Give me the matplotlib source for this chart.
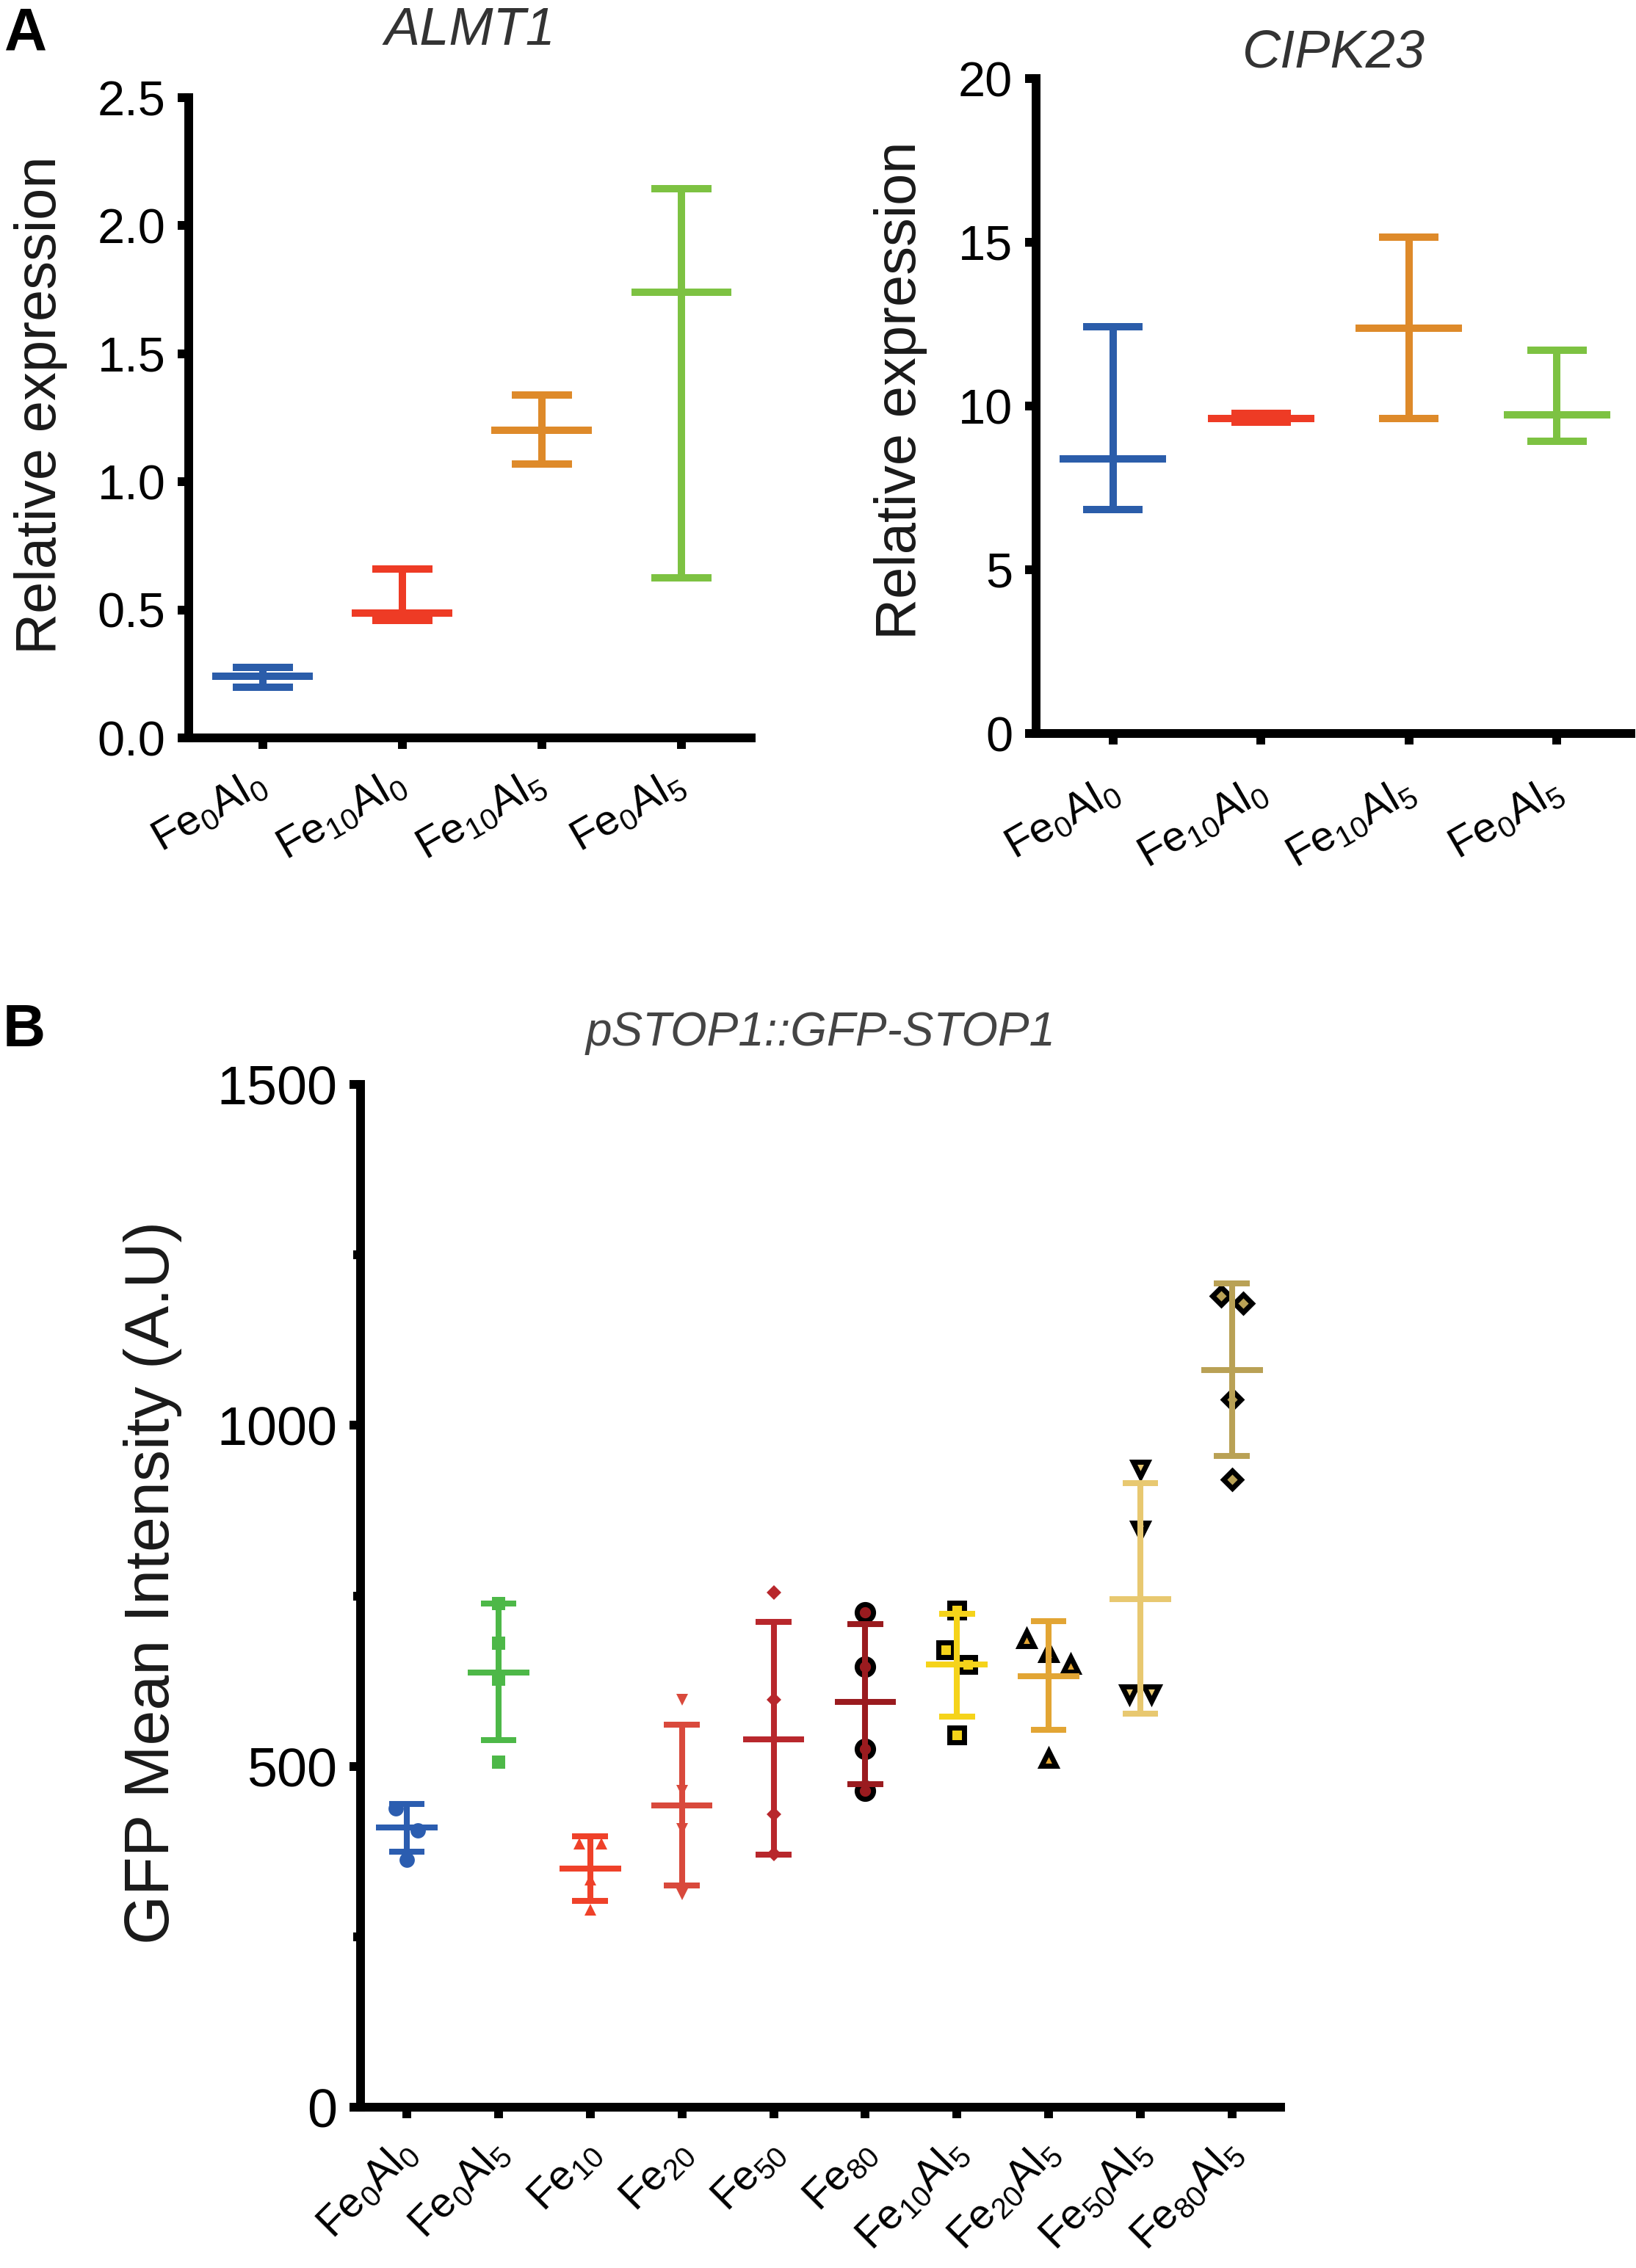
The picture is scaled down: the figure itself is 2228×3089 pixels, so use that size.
import numpy as np
import matplotlib
matplotlib.use('Agg')
import matplotlib.pyplot as plt
import matplotlib.transforms as mtransforms
from matplotlib.ticker import FixedLocator

plt.rcParams['font.family'] = ['Liberation Sans', 'DejaVu Sans']
plt.rcParams['mathtext.default'] = 'regular'

# ---------------- data ----------------
a_labels = ['Fe$_0$Al$_0$', 'Fe$_{10}$Al$_0$', 'Fe$_{10}$Al$_5$', 'Fe$_0$Al$_5$']
a_colors = ['#2B5DAA', '#EE3B25', '#DE8A2A', '#7DC242']

almt1_mean = [0.241, 0.487, 1.202, 1.739]
almt1_low = [0.197, 0.460, 1.070, 0.625]
almt1_high = [0.274, 0.658, 1.338, 2.145]

cipk23_mean = [8.38, 9.62, 12.38, 9.72]
cipk23_low = [6.83, 9.50, 9.62, 8.93]
cipk23_high = [12.43, 9.78, 15.15, 11.70]

b_labels = ['Fe$_0$Al$_0$', 'Fe$_0$Al$_5$', 'Fe$_{10}$', 'Fe$_{20}$', 'Fe$_{50}$',
            'Fe$_{80}$', 'Fe$_{10}$Al$_5$', 'Fe$_{20}$Al$_5$', 'Fe$_{50}$Al$_5$', 'Fe$_{80}$Al$_5$']
b_colors = ['#2B5DB0', '#4DB848', '#EF4129', '#D9493C', '#B8272C',
            '#9A1B1F', '#F5D31A', '#E2A534', '#E8C870', '#B9A155']
b_points = [
    [438, 406, 363],
    [739, 681, 628, 506],
    [387, 387, 334, 290],
    [598, 464, 408, 312],
    [755, 598, 430, 371],
    [726, 646, 526, 464],
    [729, 671, 649, 546],
    [687, 667, 649, 511],
    [936, 846, 606, 606],
    [1190, 1179, 1038, 921],
]
b_mean = [410, 637, 350, 443, 540, 594, 649, 632, 745, 1081]
b_low = [375, 538, 303, 325, 370, 474, 573, 554, 577, 955]
b_high = [445, 739, 397, 561, 712, 709, 724, 713, 915, 1208]

# marker styles (style only)
b_markers = ['o', 's', '^', 'v', 'D', 'o', 's', '^', 'v', 'D']
b_msize = [15, 13, 12, 11, 10, 16, 15, 14, 14, 12]
b_edge = [None, None, None, None, None, 'black', 'black', 'black', 'black', 'black']

# ---------------- figure ----------------
W, H = 2228, 3089
fig = plt.figure(figsize=(W / 100, H / 100), dpi=100)


def frac(x0, x1, ytop, ybot):
    return [x0 / W, 1 - ybot / H, (x1 - x0) / W, (ybot - ytop) / H]


SPINE_LW = 8.6
TICK_LEN = 10.8


def style_axes(ax):
    for s in ['top', 'right']:
        ax.spines[s].set_visible(False)
    for s in ['left', 'bottom']:
        ax.spines[s].set_linewidth(SPINE_LW)
        ax.spines[s].set_capstyle('projecting')
    ax.tick_params(which='major', length=TICK_LEN, width=SPINE_LW, direction='out', color='black')
    ax.tick_params(which='minor', length=7, width=SPINE_LW, direction='out', color='black')


def range_plot(ax, xs, mean, low, high, colors, lw, mean_half, cap_half, z=3):
    xs = np.asarray(xs, dtype=float)
    for x, m, lo, hi, c in zip(xs, mean, low, high, colors):
        ax.vlines(x, lo, hi, color=c, lw=lw, zorder=z)
        ax.hlines([lo, hi], x - cap_half, x + cap_half, color=c, lw=lw, zorder=z)
        ax.hlines(m, x - mean_half, x + mean_half, color=c, lw=lw, zorder=z)


def spread(vals, tol, step):
    vals = np.asarray(vals, dtype=float)
    order = np.argsort(-vals, kind='stable')
    offsets = np.zeros(len(vals))
    clusters, cur = [], [order[0]]
    for i in order[1:]:
        if abs(vals[i] - vals[cur[-1]]) < tol:
            cur.append(i)
        else:
            clusters.append(cur)
            cur = [i]
    clusters.append(cur)
    for c in clusters:
        n = len(c)
        for k, i in enumerate(c):
            offsets[i] = (k - (n - 1) / 2) * step
    return offsets


def shift_labels(labels, dx_px, dy_px):
    off = mtransforms.ScaledTranslation(dx_px / 100, dy_px / 100, fig.dpi_scale_trans)
    for lab in labels:
        lab.set_transform(lab.get_transform() + off)


TXT = '#1a1a1a'

# ---------- Panel A left: ALMT1 ----------
axL = fig.add_axes(frac(257, 1023, 133, 1005))
style_axes(axL)
xa = np.arange(len(a_labels))
range_plot(axL, xa, almt1_mean, almt1_low, almt1_high, a_colors, 7.2, 0.36, 0.215)
axL.set_xlim(-0.53, 3.5)
axL.set_ylim(0, 2.5)
axL.yaxis.set_major_locator(FixedLocator([0, 0.5, 1.0, 1.5, 2.0, 2.5]))
axL.set_yticklabels(['0.0', '0.5', '1.0', '1.5', '2.0', '2.5'])
axL.set_xticks(xa)
labsL = axL.set_xticklabels(a_labels, rotation=30, ha='right', rotation_mode='anchor')
axL.tick_params(axis='y', labelsize=48, pad=12)
axL.tick_params(axis='x', labelsize=42, pad=14)
shift_labels(labsL, -14, 0)
axL.set_ylabel('Relative expression', fontsize=56, color=TXT)
axL.yaxis.set_label_coords(-0.216, 0.52)
axL.set_title('ALMT1', fontsize=52, style='italic', color='#333333', pad=52)

# ---------- Panel A right: CIPK23 ----------
axR = fig.add_axes(frac(1411, 2221, 107, 999))
style_axes(axR)
range_plot(axR, xa, cipk23_mean, cipk23_low, cipk23_high, a_colors, 7.2, 0.36, 0.2)
axR.set_xlim(-0.52, 3.5)
axR.set_ylim(0, 20)
axR.yaxis.set_major_locator(FixedLocator([0, 5, 10, 15, 20]))
axR.set_xticks(xa)
labsR = axR.set_xticklabels(a_labels, rotation=30, ha='right', rotation_mode='anchor')
axR.tick_params(axis='y', labelsize=48, pad=12)
axR.tick_params(axis='x', labelsize=42, pad=26)
shift_labels(labsR, -10, 0)
axR.set_ylabel('Relative expression', fontsize=56, color=TXT)
axR.yaxis.set_label_coords(-0.183, 0.524)
axR.set_title('CIPK23', fontsize=52, style='italic', color='#333333', pad=10)

# ---------- Panel B ----------
axB = fig.add_axes(frac(491, 1744, 1477, 2870))
style_axes(axB)
xb = np.arange(len(b_labels))
for i, pts in enumerate(b_points):
    offs = spread(pts, 35, 0.24)
    ec = b_edge[i] if b_edge[i] else b_colors[i]
    mew = 5.0 if b_edge[i] else 0
    axB.plot(xb[i] + offs, pts, linestyle='none', marker=b_markers[i], ms=b_msize[i],
             mfc=b_colors[i], mec=ec, mew=mew, zorder=2)
range_plot(axB, xb, b_mean, b_low, b_high, b_colors, 5.8, 0.335, 0.195, z=3)
axB.set_xlim(-0.505, 9.53)
axB.set_ylim(0, 1500)
axB.yaxis.set_major_locator(FixedLocator([0, 500, 1000, 1500]))
axB.yaxis.set_minor_locator(FixedLocator([250, 750, 1250]))
axB.set_xticks(xb)
labsB = axB.set_xticklabels(b_labels, rotation=45, ha='right', rotation_mode='anchor')
axB.tick_params(axis='y', labelsize=53, pad=12)
axB.tick_params(axis='x', labelsize=41, pad=14)
shift_labels(labsB, -14, 0)
axB.set_ylabel('GFP Mean Intensity (A.U)', fontsize=62, color=TXT)
axB.yaxis.set_label_coords(-0.194, 0.513)
axB.set_title('pSTOP1::GFP-STOP1', fontsize=46, style='italic', color='#444444', pad=38)

# panel letters
fig.text(6 / W, 1 - 8 / H, 'A', fontsize=58, fontweight='bold', va='top', ha='left')
fig.text(4 / W, 1 - 1366 / H, 'B', fontsize=58, fontweight='bold', va='top', ha='left')

fig.savefig('out.png', dpi=100, facecolor='white')
